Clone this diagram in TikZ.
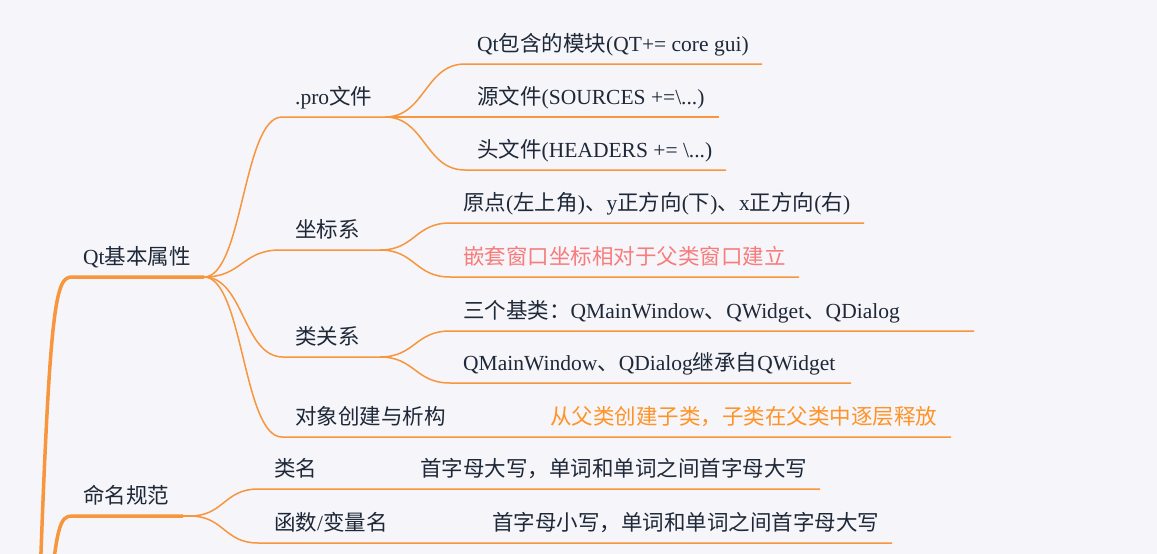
\documentclass[tikz,border=0pt]{standalone}
\usepackage{fontspec}
\setmainfont{Liberation Serif}
\newfontfamily\cjkfont{Noto Sans CJK SC}
\newfontfamily\latfont{Liberation Serif}
\newcount\cjkc
\newXeTeXintercharclass\CJKcls
\def\setcjkrange#1#2{\cjkc=#1 \loop\XeTeXcharclass\cjkc=\CJKcls \advance\cjkc by 1 \ifnum\cjkc<#2 \repeat}
\setcjkrange{"3000}{"3040}
\setcjkrange{"4E00}{"A000}
\setcjkrange{"FF00}{"FFF0}
\XeTeXinterchartokenstate=1
\XeTeXinterchartoks 0 \CJKcls = {\cjkfont}
\XeTeXinterchartoks 4095 \CJKcls = {\cjkfont}
\XeTeXinterchartoks \CJKcls 0 = {\latfont}
\definecolor{lineor}{HTML}{F7963C}
\definecolor{txt}{HTML}{1E2837}
\definecolor{pinktxt}{HTML}{F87C7C}
\definecolor{ortxt}{HTML}{FF9326}
\definecolor{bg}{HTML}{F5F5FA}
\begin{document}
\begin{tikzpicture}[x=1pt,y=-1pt,
  br/.style={draw=lineor, line width=1.5pt},
  trunk/.style={draw=lineor, line width=3.5pt},
  lbl/.style={anchor=base west, inner sep=0pt, text=txt, font=\fontsize{21.5}{26}\selectfont},
]
\fill[bg] (0,0) rectangle (1157,554);
\useasboundingbox (0,0) rectangle (1157,554);

% texts
\node[lbl] (qt) at (83,264) {Qt基本属性};
\node[lbl] (mm) at (83,503) {命名规范};
\node[lbl] (pro) at (295,104) {.pro文件};
\node[lbl] (zb) at (295,237) {坐标系};
\node[lbl] (lg) at (295,344) {类关系};
\node[lbl] (dx) at (295,424) {对象创建与析构};
\node[lbl] (lm) at (274,476) {类名};
\node[lbl] (hs) at (274,530) {函数/变量名};
\node[lbl] (mk) at (477,51) {Qt包含的模块(QT+= core gui)};
\node[lbl] (src) at (477,104) {源文件(SOURCES +=\textbackslash...)};
\node[lbl] (hdr) at (477,157) {头文件(HEADERS += \textbackslash...)};
\node[lbl] (yd) at (463,210) {原点(左上角)、y正方向(下)、x正方向(右)};
\node[lbl, text=pinktxt] (qtw) at (463,264) {嵌套窗口坐标相对于父类窗口建立};
\node[lbl] (jl) at (463,318) {三个基类：QMainWindow、QWidget、QDialog};
\node[lbl] (jc) at (463,370) {QMainWindow、QDialog继承自QWidget};
\node[lbl, text=ortxt] (sf) at (550,424) {从父类创建子类，子类在父类中逐层释放};
\node[lbl] (dx1) at (420,476) {首字母大写，单词和单词之间首字母大写};
\node[lbl] (xx1) at (492,530) {首字母小写，单词和单词之间首字母大写};

% coordinates
\coordinate (root1) at (40,580);
\coordinate (qts) at (72,277);
\coordinate (qth) at (204,277);
\coordinate (root2) at (48,620);
\coordinate (mms) at (72,516);
\coordinate (mme) at (183,516);
\coordinate (mmh) at (190,516);
\coordinate (pro-a) at (282,117); \coordinate (pro-b) at (385,117);
\coordinate (zb-a) at (280,250);  \coordinate (zb-b) at (380,250);
\coordinate (lg-a) at (283,357);  \coordinate (lg-b) at (380,357);
\coordinate (dx-a) at (282,437);  \coordinate (dx-b) at (951,437);
\coordinate (mk-a) at (465,64);   \coordinate (mk-b) at (762,64);
\coordinate (src-b) at (719,117);
\coordinate (hdr-a) at (465,170); \coordinate (hdr-b) at (726,170);
\coordinate (yd-a) at (450,223);  \coordinate (yd-b) at (864,223);
\coordinate (qtw-a) at (450,277); \coordinate (qtw-b) at (799,277);
\coordinate (jl-a) at (450,331);  \coordinate (jl-b) at (974,331);
\coordinate (jc-a) at (450,383);  \coordinate (jc-b) at (851,383);
\coordinate (lm-a) at (258,489);  \coordinate (lm-b) at (820,489);
\coordinate (hs-a) at (258,543);  \coordinate (hs-b) at (892,543);

% trunks
\begin{scope}
\clip (0,0) rectangle (1157,554);
\draw[trunk] (root1) .. controls (50,300) and (56,277) .. (qts) -- (qth);
\draw[trunk] (root2) .. controls (56,525) and (60,516) .. (mms) -- (mme);
\end{scope}
\draw[br] (mme) -- (mmh);

% level 2
\draw[br] (qth) .. controls +(39,0) and +(-39,0) .. (pro-a) -- (pro-b);
\draw[br] (qth) .. controls +(38,0) and +(-38,0) .. (zb-a) -- (zb-b);
\draw[br] (qth) .. controls +(40,0) and +(-40,0) .. (lg-a) -- (lg-b);
\draw[br] (qth) .. controls +(39,0) and +(-39,0) .. (dx-a) -- (dx-b);

% level 3
\draw[br] (pro-b) .. controls +(40,0) and +(-40,0) .. (mk-a) -- (mk-b);
\draw[br] (pro-b) -- (src-b);
\draw[br] (pro-b) .. controls +(40,0) and +(-40,0) .. (hdr-a) -- (hdr-b);
\draw[br] (zb-b) .. controls +(35,0) and +(-35,0) .. (yd-a) -- (yd-b);
\draw[br] (zb-b) .. controls +(35,0) and +(-35,0) .. (qtw-a) -- (qtw-b);
\draw[br] (lg-b) .. controls +(35,0) and +(-35,0) .. (jl-a) -- (jl-b);
\draw[br] (lg-b) .. controls +(35,0) and +(-35,0) .. (jc-a) -- (jc-b);
\draw[br] (mmh) .. controls +(34,0) and +(-34,0) .. (lm-a) -- (lm-b);
\draw[br] (mmh) .. controls +(34,0) and +(-34,0) .. (hs-a) -- (hs-b);
\end{tikzpicture}
\end{document}
